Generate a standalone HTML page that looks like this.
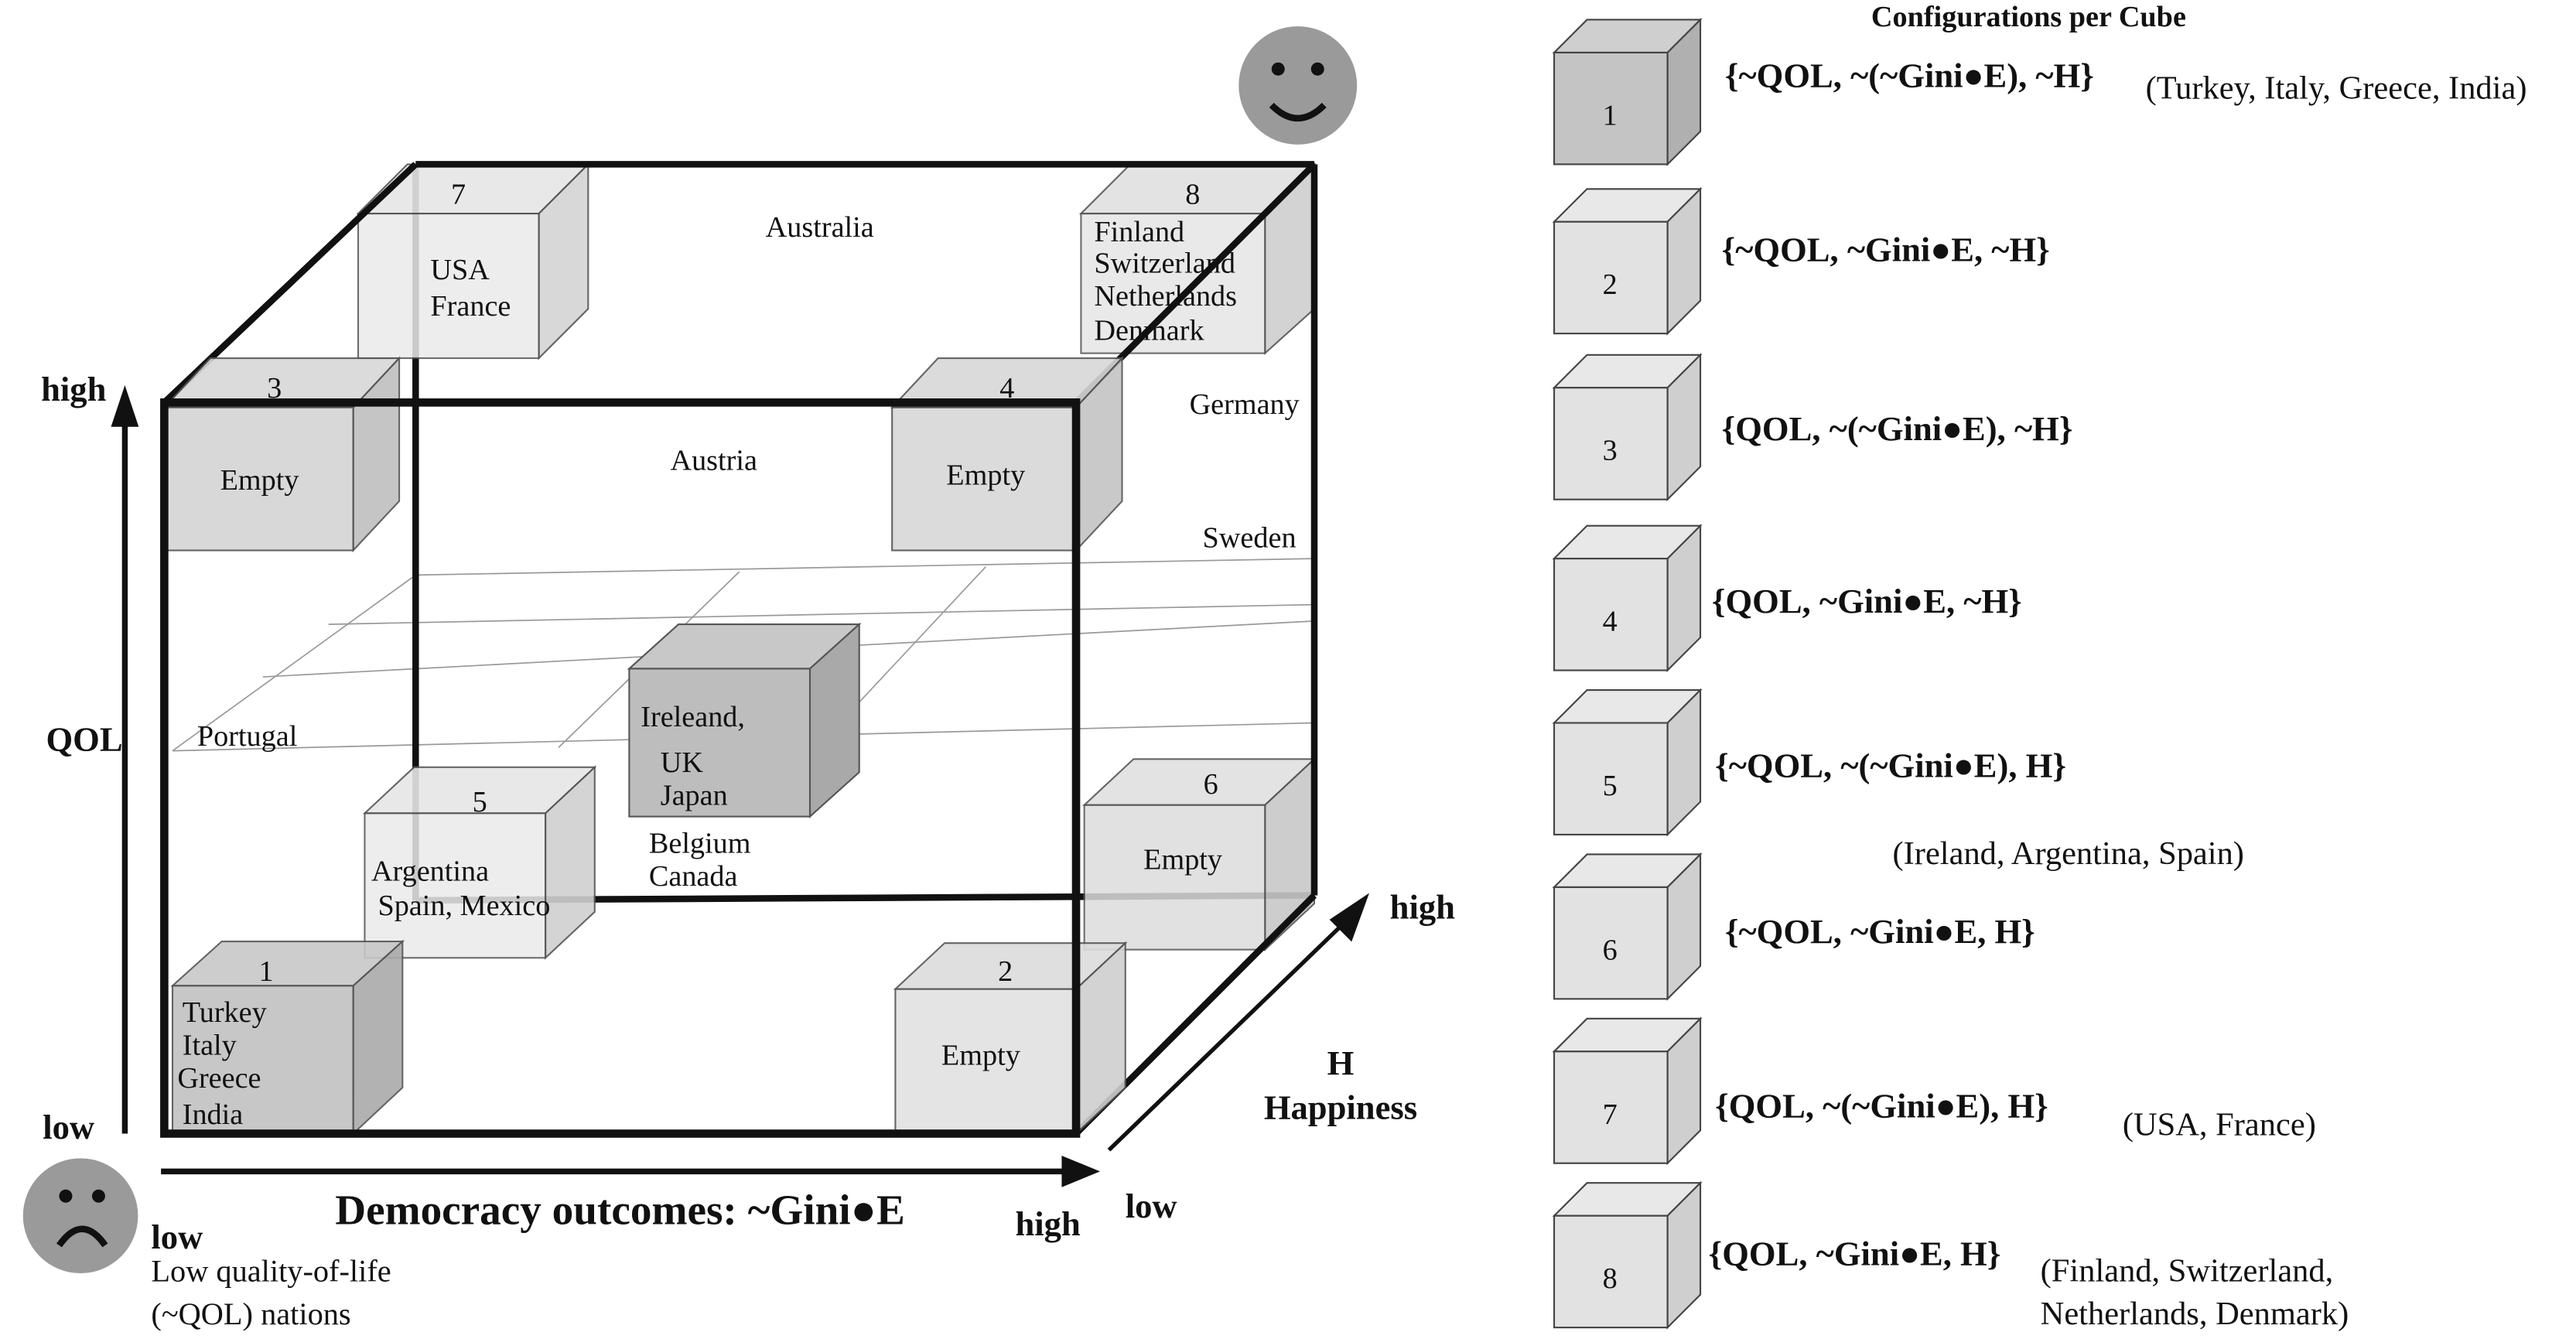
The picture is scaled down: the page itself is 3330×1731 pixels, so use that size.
<!DOCTYPE html>
<html><head><meta charset="utf-8"><style>
html,body{margin:0;padding:0;background:#fff;}
svg{display:block;}
text{font-family:"Liberation Serif",serif;fill:#111;}
.b{font-weight:bold;}
</style></head><body>
<svg width="3330" height="1731" viewBox="0 0 1568 815" preserveAspectRatio="none" xmlns="http://www.w3.org/2000/svg">
<defs>
<g id="lc">
 <polygon points="0,20 20,0 89,0 69,20" fill="#e8e8e8" stroke="#444" stroke-width="1"/>
 <polygon points="69,20 89,0 89,68 69,88" fill="#cfcfcf" stroke="#444" stroke-width="1"/>
 <rect x="0" y="20" width="69" height="68" fill="#e2e2e2" stroke="#444" stroke-width="1"/>
</g>
<g id="lcd">
 <polygon points="0,20 20,0 89,0 69,20" fill="#cfcfcf" stroke="#444" stroke-width="1"/>
 <polygon points="69,20 89,0 89,68 69,88" fill="#b0b0b0" stroke="#444" stroke-width="1"/>
 <rect x="0" y="20" width="69" height="68" fill="#c4c4c4" stroke="#444" stroke-width="1"/>
</g>
</defs>
<g stroke="#999" stroke-width="0.8" fill="none">
 <line x1="105" y1="457" x2="800" y2="440"/>
 <line x1="253" y1="350" x2="800" y2="340"/>
 <line x1="105" y1="457" x2="253" y2="350"/>
 <line x1="160" y1="412" x2="800" y2="378"/>
 <line x1="200" y1="380" x2="800" y2="368"/>
 <line x1="340" y1="455" x2="450" y2="348"/>
 <line x1="500" y1="452" x2="600" y2="345"/>
</g>
<g stroke="#111" stroke-width="4" fill="none">
 <line x1="253" y1="100" x2="253" y2="548"/>
 <line x1="253" y1="548" x2="800" y2="545"/>
</g>
<g stroke="#555" stroke-width="1">
 <polygon points="218,130 248,100 358,100 328,130" fill="#e6e6e6" opacity="0.9"/>
 <polygon points="328,130 358,100 358,188 328,218" fill="#d4d4d4" opacity="0.9"/>
 <rect x="218" y="130" width="110" height="88" fill="#ebebeb" opacity="0.85"/>
 <polygon points="658,130 688,100 800,100 770,130" fill="#e0e0e0" opacity="0.9"/>
 <polygon points="770,130 800,100 800,188 770,215" fill="#cfcfcf" opacity="0.9"/>
 <rect x="658" y="130" width="112" height="85" fill="#e6e6e6" opacity="0.85"/>
 <polygon points="383,407 413,380 523,380 493,407" fill="#c8c8c8"/>
 <polygon points="493,407 523,380 523,470 493,497" fill="#a9a9a9"/>
 <rect x="383" y="407" width="110" height="90" fill="#bdbdbd"/>
 <polygon points="222,495 252,467 362,467 332,495" fill="#e6e6e6" opacity="0.9"/>
 <polygon points="332,495 362,467 362,555 332,583" fill="#d0d0d0" opacity="0.9"/>
 <rect x="222" y="495" width="110" height="88" fill="#ebebeb" opacity="0.85"/>
 <polygon points="660,490 690,462 800,462 770,490" fill="#e0e0e0" opacity="0.9"/>
 <polygon points="770,490 800,462 800,550 770,578" fill="#c8c8c8" opacity="0.9"/>
 <rect x="660" y="490" width="110" height="88" fill="#dcdcdc" opacity="0.85"/>
</g>
<g stroke="#111" stroke-width="4" fill="none">
 <line x1="253" y1="100" x2="800" y2="100"/>
 <line x1="800" y1="100" x2="800" y2="545"/>
 <line x1="100" y1="245" x2="253" y2="100"/>
 <line x1="655" y1="245" x2="800" y2="100"/>
 <line x1="655" y1="690" x2="800" y2="545"/>
</g>
<g stroke="#555" stroke-width="1">
 <polygon points="100,248 128,218 243,218 215,248" fill="#d8d8d8" opacity="0.9"/>
 <polygon points="215,248 243,218 243,305 215,335" fill="#bfbfbf" opacity="0.9"/>
 <rect x="100" y="248" width="115" height="87" fill="#d4d4d4" opacity="0.9"/>
 <polygon points="543,248 571,218 683,218 655,248" fill="#d8d8d8" opacity="0.9"/>
 <polygon points="655,248 683,218 683,305 655,335" fill="#c4c4c4" opacity="0.9"/>
 <rect x="543" y="248" width="112" height="87" fill="#d8d8d8" opacity="0.9"/>
 <polygon points="105,600 135,573 245,573 215,600" fill="#c8c8c8" opacity="0.9"/>
 <polygon points="215,600 245,573 245,662 215,690" fill="#aaaaaa" opacity="0.9"/>
 <rect x="105" y="600" width="110" height="90" fill="#c2c2c2" opacity="0.9"/>
 <polygon points="545,602 575,574 685,574 655,602" fill="#dcdcdc" opacity="0.9"/>
 <polygon points="655,602 685,574 685,662 655,690" fill="#cfcfcf" opacity="0.9"/>
 <rect x="545" y="602" width="110" height="88" fill="#e2e2e2" opacity="0.9"/>
</g>
<rect x="100" y="245" width="555" height="445" fill="none" stroke="#111" stroke-width="5"/>
<g stroke="#111" stroke-width="3.5" fill="#111">
 <line x1="76" y1="690" x2="76" y2="255"/>
 <polygon points="70,258 82,258 76,240" />
 <line x1="98" y1="713" x2="650" y2="713"/>
 <polygon points="648,706 648,720 665,713"/>
 <line x1="675" y1="700" x2="820" y2="560" stroke-width="2.5"/>
 <polygon points="812,560 822,570 830,548"/>
</g>
<circle cx="790" cy="52" r="36" fill="#9a9a9a"/>
<circle cx="778" cy="42" r="4" fill="#111"/><circle cx="802" cy="42" r="4" fill="#111"/>
<path d="M774,64 Q790,80 806,64" stroke="#111" stroke-width="4" fill="none"/>
<circle cx="49" cy="740" r="35" fill="#9a9a9a"/>
<circle cx="40" cy="728" r="4" fill="#111"/><circle cx="60" cy="728" r="4" fill="#111"/>
<path d="M36,758 Q50,738 64,758" stroke="#111" stroke-width="4" fill="none"/>
<g font-size="18">
 <text x="279" y="124" text-anchor="middle">7</text>
 <text x="262" y="170">USA</text><text x="262" y="192">France</text>
 <text x="726" y="124" text-anchor="middle">8</text>
 <text x="666" y="147">Finland</text><text x="666" y="166">Switzerland</text><text x="666" y="186">Netherlands</text><text x="666" y="207">Denmark</text>
 <text x="466" y="144">Australia</text>
 <text x="167" y="242" text-anchor="middle">3</text>
 <text x="158" y="298" text-anchor="middle">Empty</text>
 <text x="613" y="242" text-anchor="middle">4</text>
 <text x="600" y="295" text-anchor="middle">Empty</text>
 <text x="408" y="286">Austria</text>
 <text x="724" y="252">Germany</text>
 <text x="732" y="333">Sweden</text>
 <text x="120" y="454">Portugal</text>
 <text x="390" y="442">Ireleand,</text>
 <text x="402" y="470">UK</text><text x="402" y="490">Japan</text>
 <text x="395" y="519">Belgium</text><text x="395" y="539">Canada</text>
 <text x="292" y="494" text-anchor="middle">5</text>
 <text x="226" y="536">Argentina</text><text x="230" y="557">Spain, Mexico</text>
 <text x="737" y="483" text-anchor="middle">6</text>
 <text x="720" y="529" text-anchor="middle">Empty</text>
 <text x="162" y="597" text-anchor="middle">1</text>
 <text x="111" y="622">Turkey</text><text x="111" y="642">Italy</text><text x="108" y="662">Greece</text><text x="111" y="684">India</text>
 <text x="612" y="597" text-anchor="middle">2</text>
 <text x="597" y="648" text-anchor="middle">Empty</text>
</g>
<g class="b" font-size="21">
 <text x="25" y="244" class="b">high</text>
 <text x="28" y="457" class="b">QOL</text>
 <text x="26" y="693" class="b">low</text>
 <text x="92" y="760" class="b">low</text>
 <text x="204" y="745" class="b" font-size="26">Democracy outcomes: ~Gini●E</text>
 <text x="618" y="752" class="b">high</text>
 <text x="685" y="741" class="b">low</text>
 <text x="846" y="559" class="b">high</text>
 <text x="816" y="654" class="b" text-anchor="middle">H</text>
 <text x="816" y="681" class="b" text-anchor="middle">Happiness</text>
</g>
<g font-size="19">
 <text x="92" y="780">Low quality-of-life</text>
 <text x="92" y="806">(~QOL) nations</text>
</g>
<text x="1139" y="16" class="b" font-size="18">Configurations per Cube</text>
<use href="#lcd" x="946" y="12"/>
<use href="#lc" x="946" y="115"/>
<use href="#lc" x="946" y="216"/>
<use href="#lc" x="946" y="320"/>
<use href="#lc" x="946" y="420"/>
<use href="#lc" x="946" y="520"/>
<use href="#lc" x="946" y="620"/>
<use href="#lc" x="946" y="720"/>
<g font-size="18" text-anchor="middle">
 <text x="980" y="76">1</text><text x="980" y="179">2</text><text x="980" y="280">3</text><text x="980" y="384">4</text>
 <text x="980" y="484">5</text><text x="980" y="584">6</text><text x="980" y="684">7</text><text x="980" y="784">8</text>
</g>
<g class="b" font-size="21">
 <text x="1050" y="53">{~QOL, ~(~Gini●E), ~H}</text>
 <text x="1048" y="159">{~QOL, ~Gini●E, ~H}</text>
 <text x="1048" y="268">{QOL, ~(~Gini●E), ~H}</text>
 <text x="1042" y="373">{QOL, ~Gini●E, ~H}</text>
 <text x="1044" y="473">{~QOL, ~(~Gini●E), H}</text>
 <text x="1050" y="574">{~QOL,  ~Gini●E, H}</text>
 <text x="1044" y="680">{QOL, ~(~Gini●E), H}</text>
 <text x="1040" y="770">{QOL, ~Gini●E, H}</text>
</g>
<g font-size="20">
 <text x="1306" y="60">(Turkey, Italy, Greece, India)</text>
 <text x="1152" y="526">(Ireland, Argentina, Spain)</text>
 <text x="1292" y="691">(USA, France)</text>
 <text x="1242" y="780">(Finland, Switzerland,</text>
 <text x="1242" y="806">Netherlands, Denmark)</text>
</g>
</svg>
</body></html>
